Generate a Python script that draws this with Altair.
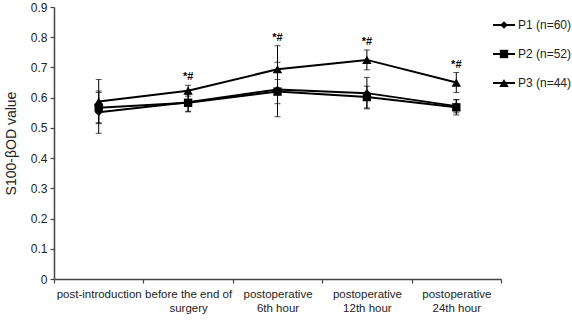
import altair as alt
import pandas as pd

# Time points (the "|" marks a line break in the axis label)
times = [
    "post-introduction",
    "before the end of|surgery",
    "postoperative|6th hour",
    "postoperative|12th hour",
    "postoperative|24th hour",
]
series = ["P1 (n=60)", "P2 (n=52)", "P3 (n=44)"]

# S100-beta OD means and error half-widths per group
p1_mean = [0.552, 0.585, 0.627, 0.615, 0.572]
p1_err = [0.070, 0.030, 0.090, 0.052, 0.022]
p2_mean = [0.567, 0.583, 0.620, 0.602, 0.568]
p2_err = [0.050, 0.030, 0.040, 0.036, 0.025]
p3_mean = [0.587, 0.623, 0.694, 0.725, 0.650]
p3_err = [0.073, 0.018, 0.078, 0.033, 0.033]
# significance marks drawn above the P3 bars
p3_sig = ["", "*#", "*#", "*#", "*#"]

y_ticks = [0, 0.1, 0.2, 0.3, 0.4, 0.5, 0.6, 0.7, 0.8, 0.9]

shapes = ["diamond", "square", "triangle-up"]
sizes = [60, 70, 90]

rows = []
for name, means, errs in zip(series, [p1_mean, p2_mean, p3_mean], [p1_err, p2_err, p3_err]):
    for i, t in enumerate(times):
        rows.append({
            "time": t,
            "series": name,
            "mean": means[i],
            "lo": means[i] - errs[i],
            "hi": means[i] + errs[i],
            "sig": p3_sig[i] if name == series[2] else "",
        })
df = pd.DataFrame(rows)
legend_df = pd.DataFrame({"series": series})

font = "Liberation Sans"

x_axis = alt.Axis(
    title=None,
    labelAngle=0,
    labelExpr="split(datum.label, '|')",
    labelFontSize=11.5,
    labelLineHeight=14,
    labelPadding=5,
    tickBand="extent",
)
x_enc = alt.X(
    "time:N",
    sort=times,
    scale=alt.Scale(paddingInner=0, paddingOuter=0),
    axis=x_axis,
)
y_scale = alt.Scale(domain=[0, 0.9], nice=False, zero=True)
y_axis = alt.Axis(
    title="S100-βOD value",
    titleFontSize=14,
    titleFontWeight="normal",
    titlePadding=12,
    values=y_ticks,
    labelExpr="datum.value == 0 ? '0' : format(datum.value, '.1f')",
    labelFontSize=12,
    labelPadding=3,
    grid=False,
)


def y_enc(field):
    return alt.Y(f"{field}:Q", scale=y_scale, axis=y_axis)


base = alt.Chart(df)

bars = base.mark_rule(color="black", strokeWidth=1).encode(
    x=x_enc, y=y_enc("lo"), y2="hi:Q"
)
cap_lo = base.mark_tick(color="black", thickness=1, size=6, orient="horizontal").encode(
    x=x_enc, y=y_enc("lo")
)
cap_hi = base.mark_tick(color="black", thickness=1, size=6, orient="horizontal").encode(
    x=x_enc, y=y_enc("hi")
)
lines = base.mark_line(color="black", strokeWidth=2).encode(
    x=x_enc, y=y_enc("mean"), detail="series:N"
)

# one marker layer per group, each with its own fixed marker shape
marker_layers = [
    base.transform_filter(alt.datum.series == name)
    .mark_point(filled=True, color="black", opacity=1, shape=shape, size=size)
    .encode(x=x_enc, y=y_enc("mean"))
    for name, shape, size in zip(series, shapes, sizes)
]

sig = base.transform_filter("datum.sig != ''").mark_text(
    font=font, fontSize=11, fontWeight="bold", color="black", dy=-8
).encode(x=x_enc, y=y_enc("hi"), text="sig:N")

main = alt.layer(bars, cap_lo, cap_hi, lines, *marker_layers, sig)

# legend at the upper right: line segment with marker, then the group label
leg_y = alt.Y(
    "series:N",
    sort=series,
    scale=alt.Scale(type="point", domain=series, range=[18, 76], padding=0),
    axis=None,
)
leg_base = alt.Chart(legend_df)
leg_line = leg_base.mark_rule(color="black", strokeWidth=2).encode(
    x=alt.value(439), x2=alt.value(461), y=leg_y
)
leg_marks = [
    leg_base.transform_filter(alt.datum.series == name)
    .mark_point(filled=True, color="black", opacity=1, shape=shape, size=size)
    .encode(x=alt.value(450), y=leg_y)
    for name, shape, size in zip(series, shapes, sizes)
]
leg_text = leg_base.mark_text(
    font=font, fontSize=12, color="#222", align="left", baseline="middle"
).encode(x=alt.value(464), y=leg_y, text="series:N")
legend = alt.layer(leg_line, *leg_marks, leg_text)

chart = (
    alt.layer(main, legend)
    .resolve_scale(y="independent")
    .properties(
        width=447,
        height=272,
        autosize=alt.AutoSizeParams(type="none"),
        padding={"left": 54, "top": 7, "right": 71, "bottom": 43},
        background="white",
    )
    .configure_view(stroke=None)
    .configure_axis(
        labelFont=font,
        titleFont=font,
        labelColor="#222",
        titleColor="#222",
        tickSize=4,
        tickColor="#444",
        tickWidth=1.2,
        domainColor="#444",
        domainWidth=1.5,
    )
)

chart.save("out.html", embed_options={"renderer": "svg", "actions": False})
